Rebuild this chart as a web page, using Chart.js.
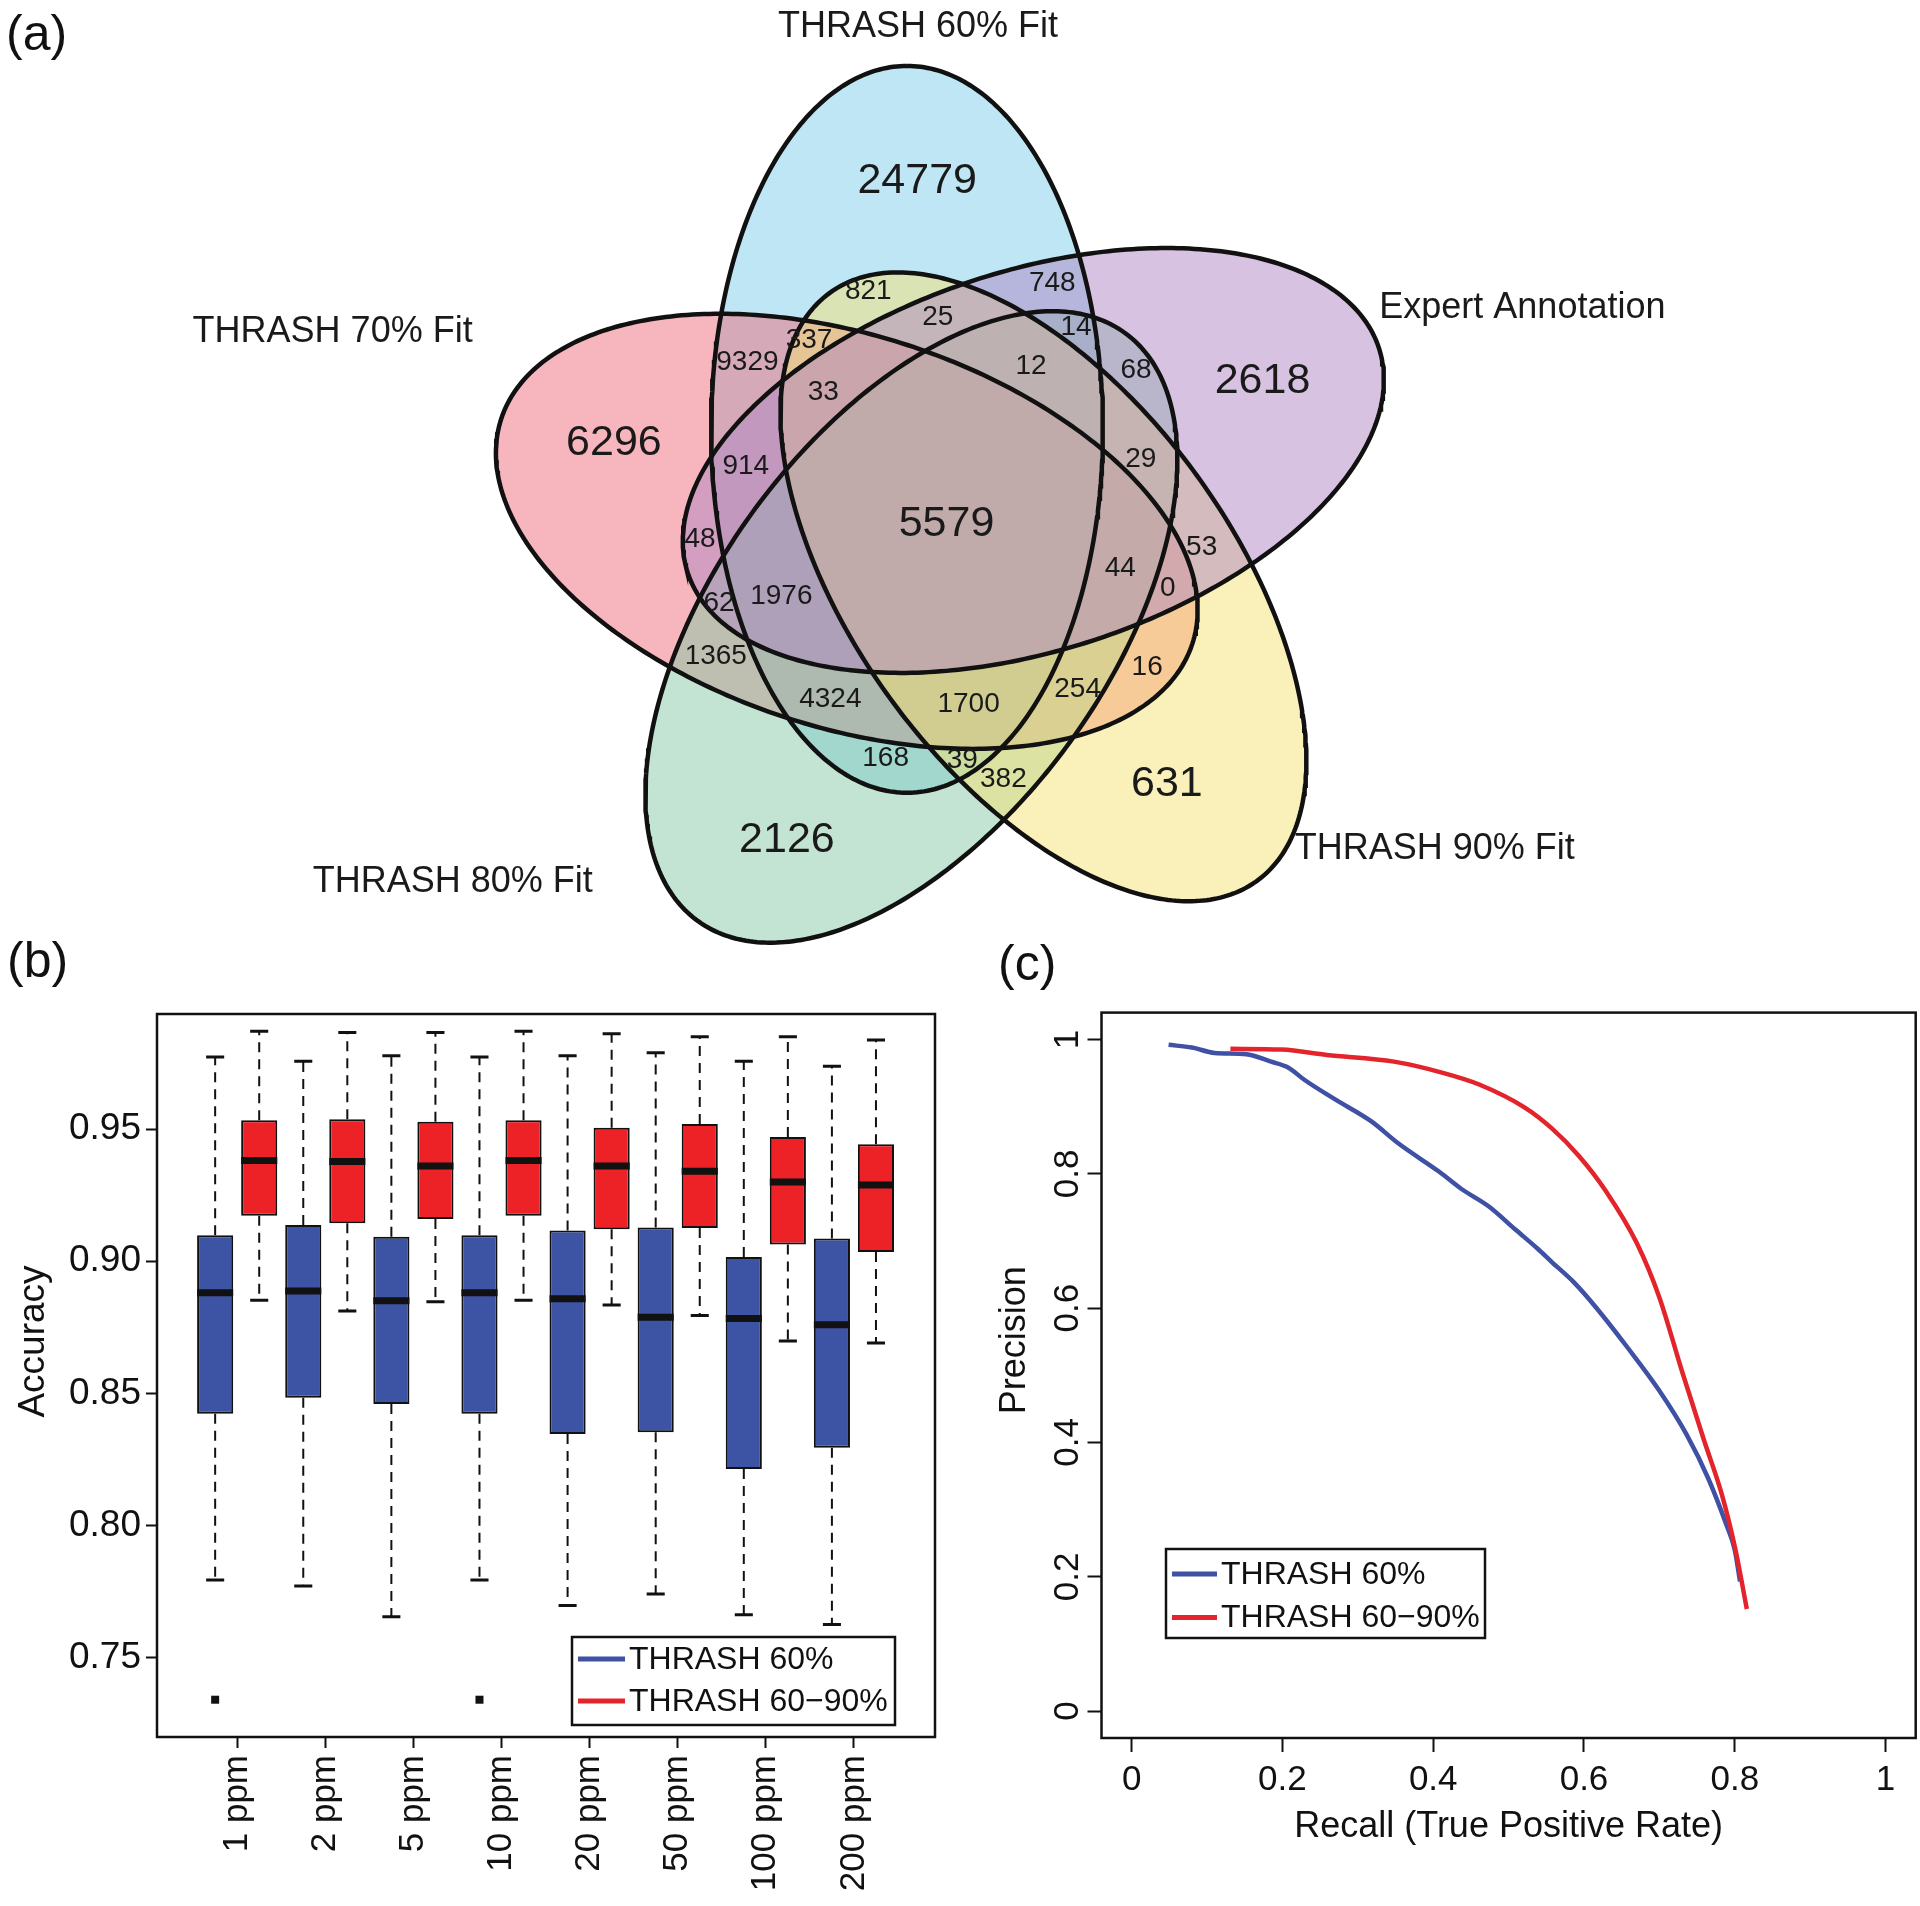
<!DOCTYPE html>
<html>
<head>
<meta charset="utf-8">
<script src="https://cdn.jsdelivr.net/npm/chart.js@4.4.1/dist/chart.umd.min.js"></script>
<style>
html,body{margin:0;padding:0;background:#fff;}
#page{position:relative;width:1920px;height:1906px;overflow:hidden;background:#fff;font-family:"Liberation Sans",Arial,sans-serif;}
canvas{position:absolute;}
.plabel{position:absolute;font-size:50px;line-height:1;color:#111;font-family:"Liberation Sans",Arial,sans-serif;}
</style>
</head>
<body>
<div id="page">
<canvas id="venn" width="1920" height="975" style="left:0;top:0;width:1920px;height:975px"></canvas>
<canvas id="box" width="960" height="966" style="left:0;top:940px;width:960px;height:966px"></canvas>
<canvas id="pr" width="960" height="966" style="left:960px;top:940px;width:960px;height:966px"></canvas>
<div class="plabel" style="left:6px;top:8px">(a)</div>
<div class="plabel" style="left:7px;top:935px">(b)</div>
<div class="plabel" style="left:998px;top:938px">(c)</div>
</div>
<script>
// ---------------- DATA ----------------
// (a) Venn diagram
const vennSetNames = ['THRASH 60% Fit', 'Expert Annotation', 'THRASH 90% Fit', 'THRASH 80% Fit', 'THRASH 70% Fit'];
const regionCounts = [24779, 6296, 2618, 631, 2126, 5579, 821, 748, 25, 14, 337, 9329, 33, 12, 68, 914, 29, 48, 53, 44, 0, 62, 1976, 1365, 16, 254, 4324, 1700, 168, 39, 382];

// (b) box plot
const ppmLabels = ['1 ppm', '2 ppm', '5 ppm', '10 ppm', '20 ppm', '50 ppm', '100 ppm', '200 ppm'];
const accTicks = [0.75, 0.80, 0.85, 0.90, 0.95];
const t60Low  = [0.7795, 0.7772, 0.7656, 0.7795, 0.7698, 0.7742, 0.7663, 0.7626];
const t60Q1   = [0.8423, 0.8484, 0.8460, 0.8423, 0.8347, 0.8353, 0.8214, 0.8295];
const t60Med  = [0.8881, 0.8888, 0.8851, 0.8881, 0.8858, 0.8788, 0.8784, 0.8760];
const t60Q3   = [0.9098, 0.9137, 0.9093, 0.9098, 0.9116, 0.9128, 0.9016, 0.9086];
const t60High = [0.9772, 0.9756, 0.9777, 0.9772, 0.9777, 0.9788, 0.9756, 0.9737];
const t60Out  = [[0.7342], [], [], [0.7342], [], [], [], []];
const t6090Low  = [0.8853, 0.8812, 0.8847, 0.8853, 0.8835, 0.8795, 0.8698, 0.8691];
const t6090Q1   = [0.9172, 0.9144, 0.9160, 0.9172, 0.9121, 0.9126, 0.9063, 0.9035];
const t6090Med  = [0.9381, 0.9377, 0.9360, 0.9381, 0.9360, 0.9340, 0.9300, 0.9288];
const t6090Q3   = [0.9533, 0.9537, 0.9528, 0.9533, 0.9505, 0.9519, 0.9470, 0.9442];
const t6090High = [0.9870, 0.9865, 0.9865, 0.9870, 0.9860, 0.9849, 0.9849, 0.9837];
const t6090Out  = [[], [], [], [], [], [], [], []];

// (c) precision-recall
const prTicks = [0, 0.2, 0.4, 0.6, 0.8, 1];
const recall60 = [0.049, 0.080, 0.110, 0.152, 0.185, 0.208, 0.229, 0.271, 0.318, 0.354, 0.408, 0.438, 0.473, 0.509, 0.539, 0.557, 0.587, 0.616, 0.658, 0.700, 0.736, 0.765, 0.789, 0.800, 0.807];
const precision60 = [0.992, 0.988, 0.980, 0.978, 0.967, 0.958, 0.940, 0.910, 0.878, 0.845, 0.803, 0.777, 0.752, 0.717, 0.688, 0.669, 0.638, 0.601, 0.541, 0.477, 0.412, 0.346, 0.277, 0.240, 0.193];
const recall6090 = [0.131, 0.199, 0.259, 0.348, 0.414, 0.461, 0.521, 0.557, 0.593, 0.628, 0.670, 0.700, 0.730, 0.759, 0.783, 0.801, 0.816];
const precision6090 = [0.986, 0.985, 0.977, 0.967, 0.950, 0.933, 0.899, 0.868, 0.827, 0.776, 0.697, 0.616, 0.506, 0.404, 0.322, 0.240, 0.152];

// ---------------- LAYOUT / GEOMETRY (diagram units) ----------------
const regionLabelPos = [
  [0.456, 0.941], [0.072, 0.609], [0.893, 0.688], [0.772, 0.178], [0.291, 0.107], [0.493, 0.507],
  [0.394, 0.802], [0.627, 0.812], [0.482, 0.768], [0.657, 0.756], [0.319, 0.740], [0.241, 0.712],
  [0.337, 0.674], [0.600, 0.707], [0.733, 0.702], [0.239, 0.580], [0.739, 0.589], [0.181, 0.487],
  [0.816, 0.478], [0.713, 0.451], [0.773, 0.426], [0.205, 0.406], [0.284, 0.416], [0.201, 0.340],
  [0.747, 0.326], [0.659, 0.298], [0.346, 0.285], [0.521, 0.279], [0.416, 0.211], [0.513, 0.208], [0.565, 0.184]
];
const setLabelPos = [[0.457, 1.136], [1.222, 0.780], [1.111, 0.096], [-0.132, 0.054], [-0.284, 0.750]];
const vennCenter = [0.5, 0.5];
const vennDist = 0.139;
const vennOffsetAngle = 114.2;
const vennSemiMajor = 0.46;
const vennSemiMinor = [0.248, 0.24, 0.24, 0.248, 0.248];
const vennNudge = [[0, 0], [0, -0.006], [-0.0049, -0.0035], [-0.023, 0.0127], [0.005, 0.0127]];
const vennFill = ['rgba(125,205,235,0.5)', 'rgba(175,135,195,0.5)', 'rgba(245,225,115,0.5)', 'rgba(135,201,165,0.5)', 'rgba(239,109,125,0.5)'];
const vennFillOrder = [5, 1, 2, 3, 4];

const FONT = '"Liberation Sans", Arial, sans-serif';
Chart.defaults.font.family = FONT;
Chart.defaults.color = '#111';

function ellipsePoints(k) {
  const N = 360;
  const a = (vennOffsetAngle - 72 * k) * Math.PI / 180;
  const cx = vennCenter[0] + vennDist * Math.cos(a) + vennNudge[k][0];
  const cy = vennCenter[1] + vennDist * Math.sin(a) + vennNudge[k][1];
  const rot = (90 - 72 * k) * Math.PI / 180;
  const pts = [];
  for (let i = 0; i <= N; i++) {
    const t = 2 * Math.PI * i / N;
    const u = vennSemiMajor * Math.cos(t), v = vennSemiMinor[k] * Math.sin(t);
    pts.push({x: cx + u * Math.cos(rot) - v * Math.sin(rot), y: cy + u * Math.sin(rot) + v * Math.cos(rot)});
  }
  return pts;
}

// ---------------- (a) VENN ----------------
const vennDatasets = [];
for (let k = 0; k < 5; k++) {
  vennDatasets.push({label: vennSetNames[k] + ' area', data: ellipsePoints(k), showLine: true, fill: 'shape',
    backgroundColor: vennFill[k], borderWidth: 0, pointRadius: 0, tension: 0, order: vennFillOrder[k]});
}
for (let k = 0; k < 5; k++) {
  vennDatasets.push({label: vennSetNames[k], data: ellipsePoints(k), showLine: true, fill: false,
    borderColor: '#111', borderWidth: 4.5, pointRadius: 0, tension: 0, order: 0});
}
const vennTextPlugin = {
  id: 'vennText',
  afterDatasetsDraw(chart) {
    const {ctx, scales: {x, y}} = chart;
    ctx.save();
    ctx.fillStyle = '#1a1a1a';
    ctx.textAlign = 'center';
    ctx.textBaseline = 'middle';
    regionCounts.forEach((v, i) => {
      ctx.font = (i < 6 ? '43px ' : '28px ') + FONT;
      ctx.fillText(String(v), x.getPixelForValue(regionLabelPos[i][0]), y.getPixelForValue(regionLabelPos[i][1]));
    });
    ctx.font = '36px ' + FONT;
    vennSetNames.forEach((n, i) => {
      ctx.fillText(n, x.getPixelForValue(setLabelPos[i][0]), y.getPixelForValue(setLabelPos[i][1]));
    });
    ctx.restore();
  }
};
new Chart(document.getElementById('venn'), {
  type: 'scatter',
  data: {datasets: vennDatasets},
  options: {
    responsive: false, animation: false, events: [], devicePixelRatio: 1,
    layout: {padding: 0},
    scales: {
      x: {type: 'linear', display: false, min: -0.70506, max: 1.72532},
      y: {type: 'linear', display: false, min: -0.06393, max: 1.17025}
    },
    plugins: {legend: {display: false}, tooltip: {enabled: false}, filler: {drawTime: 'beforeDatasetsDraw'}}
  },
  plugins: [vennTextPlugin]
});

// ---------------- helpers for (b) and (c) ----------------
const framePlugin = {
  id: 'frame',
  afterDraw(chart) {
    const {ctx, chartArea: a} = chart;
    ctx.save();
    ctx.strokeStyle = '#111';
    ctx.lineWidth = 2.5;
    ctx.strokeRect(a.left, a.top, a.right - a.left, a.bottom - a.top);
    ctx.restore();
  }
};
function titlesPlugin(yText, yDx, yDy, xText, xDy, size) {
  return {
    id: 'titles',
    afterDraw(chart) {
      const {ctx, chartArea: a} = chart;
      ctx.save();
      ctx.font = size + 'px ' + FONT;
      ctx.fillStyle = '#111';
      ctx.textAlign = 'center';
      ctx.textBaseline = 'middle';
      ctx.save();
      ctx.translate(a.left - yDx, (a.top + a.bottom) / 2 - yDy);
      ctx.rotate(-Math.PI / 2);
      ctx.fillText(yText, 0, 0);
      ctx.restore();
      if (xText) ctx.fillText(xText, (a.left + a.right) / 2, a.bottom + xDy);
      ctx.restore();
    }
  };
}
function legendPlugin(box, rowDy, lineLen) {
  return {
    id: 'boxLegend',
    afterDraw(chart) {
      const {ctx} = chart;
      ctx.save();
      ctx.fillStyle = '#fff';
      ctx.fillRect(box[0], box[1], box[2], box[3]);
      ctx.strokeStyle = '#111';
      ctx.lineWidth = 2.5;
      ctx.strokeRect(box[0], box[1], box[2], box[3]);
      ctx.font = '32px ' + FONT;
      ctx.textBaseline = 'middle';
      ctx.textAlign = 'left';
      chart.data.datasets.forEach((ds, i) => {
        const yy = box[1] + rowDy[i];
        ctx.strokeStyle = ds.legendColor;
        ctx.lineWidth = 5;
        ctx.beginPath();
        ctx.moveTo(box[0] + 6, yy);
        ctx.lineTo(box[0] + 6 + lineLen, yy);
        ctx.stroke();
        ctx.fillStyle = '#111';
        ctx.fillText(ds.label, box[0] + 10 + lineLen, yy + 1);
      });
      ctx.restore();
    }
  };
}

// ---------------- (b) BOX PLOT ----------------
const boxStats = [
  {low: t60Low, q1: t60Q1, med: t60Med, q3: t60Q3, high: t60High, out: t60Out},
  {low: t6090Low, q1: t6090Q1, med: t6090Med, q3: t6090Q3, high: t6090High, out: t6090Out}
];
const ppmPos = ppmLabels.map((_, i) => i + 1);
const boxWhiskerPlugin = {
  id: 'boxWhisker',
  afterDatasetsDraw(chart) {
    const {ctx, scales: {y}} = chart;
    boxStats.forEach((st, di) => {
      const meta = chart.getDatasetMeta(di);
      meta.data.forEach((bar, j) => {
        const x = bar.x, w = bar.width;
        const yq1 = y.getPixelForValue(st.q1[j]), yq3 = y.getPixelForValue(st.q3[j]);
        const ylo = y.getPixelForValue(st.low[j]), yhi = y.getPixelForValue(st.high[j]);
        const ym = y.getPixelForValue(st.med[j]);
        ctx.save();
        ctx.strokeStyle = '#111';
        ctx.lineWidth = 2;
        ctx.setLineDash([10, 7]);
        ctx.beginPath();
        ctx.moveTo(x, yq3); ctx.lineTo(x, yhi);
        ctx.moveTo(x, yq1); ctx.lineTo(x, ylo);
        ctx.stroke();
        ctx.setLineDash([]);
        ctx.lineWidth = 3;
        ctx.beginPath();
        ctx.moveTo(x - w * 0.25, yhi); ctx.lineTo(x + w * 0.25, yhi);
        ctx.moveTo(x - w * 0.25, ylo); ctx.lineTo(x + w * 0.25, ylo);
        ctx.stroke();
        ctx.lineWidth = 7;
        ctx.beginPath();
        ctx.moveTo(x - w / 2, ym); ctx.lineTo(x + w / 2, ym);
        ctx.stroke();
        ctx.fillStyle = '#111';
        (st.out[j] || []).forEach(v => {
          const yo = y.getPixelForValue(v);
          ctx.fillRect(x - 4, yo - 4, 8, 8);
        });
        ctx.restore();
      });
    });
  }
};
new Chart(document.getElementById('box'), {
  type: 'bar',
  data: {
    datasets: [
      {label: 'THRASH 60%', data: ppmPos.map((p, i) => ({x: p, y: [t60Q1[i], t60Q3[i]]})),
        backgroundColor: '#3D53A3', borderColor: '#111', borderWidth: 2, borderSkipped: false,
        barPercentage: 0.82, categoryPercentage: 1.0, legendColor: '#3F51A5'},
      {label: 'THRASH 60\u221290%', data: ppmPos.map((p, i) => ({x: p, y: [t6090Q1[i], t6090Q3[i]]})),
        backgroundColor: '#EC2227', borderColor: '#111', borderWidth: 2, borderSkipped: false,
        barPercentage: 0.82, categoryPercentage: 1.0, legendColor: '#E3242B'}
    ]
  },
  options: {
    responsive: false, animation: false, events: [], devicePixelRatio: 1,
    layout: {padding: {top: 74, right: 25, left: 0, bottom: 0}},
    scales: {
      x: {
        type: 'linear', min: 0.09, max: 8.92, offset: false,
        afterBuildTicks: s => { s.ticks = ppmPos.map(v => ({value: v})); },
        afterFit: s => { s.height = 169; },
        ticks: {callback: (v, i) => ppmLabels[i], minRotation: 90, maxRotation: 90, autoSkip: false,
          font: {size: 35}, color: '#111', padding: 7},
        grid: {drawOnChartArea: false, drawTicks: true, tickLength: 11, tickColor: '#111', tickWidth: 2, offset: false},
        border: {display: false}
      },
      y: {
        type: 'linear', min: 0.7201, max: 0.9935, stacked: false,
        afterBuildTicks: s => { s.ticks = accTicks.map(v => ({value: v})); },
        afterFit: s => { s.width = 157; },
        ticks: {callback: v => v.toFixed(2), font: {size: 37}, color: '#111', padding: 5},
        grid: {drawOnChartArea: false, drawTicks: true, tickLength: 11, tickColor: '#111', tickWidth: 2},
        border: {display: false}
      }
    },
    plugins: {legend: {display: false}, tooltip: {enabled: false}}
  },
  plugins: [boxWhiskerPlugin, framePlugin, titlesPlugin('Accuracy', 123, 34, null, 0, 37), legendPlugin([572, 697, 323, 88], [22, 64], 47)]
});

// ---------------- (c) PRECISION-RECALL ----------------
new Chart(document.getElementById('pr'), {
  type: 'scatter',
  data: {
    datasets: [
      {label: 'THRASH 60%', data: recall60.map((r, i) => ({x: r, y: precision60[i]})), showLine: true,
        borderColor: '#3F51A5', borderWidth: 4.5, pointRadius: 0, fill: false, cubicInterpolationMode: 'monotone', order: 1, legendColor: '#3F51A5'},
      {label: 'THRASH 60\u221290%', data: recall6090.map((r, i) => ({x: r, y: precision6090[i]})), showLine: true,
        borderColor: '#E3242B', borderWidth: 4.5, pointRadius: 0, fill: false, cubicInterpolationMode: 'monotone', order: 0, legendColor: '#E3242B'}
    ]
  },
  options: {
    responsive: false, animation: false, events: [], devicePixelRatio: 1,
    layout: {padding: {top: 72.6, right: 4.3, left: 0, bottom: 0}},
    scales: {
      x: {
        type: 'linear', min: -0.04, max: 1.04,
        afterBuildTicks: s => { s.ticks = prTicks.map(v => ({value: v})); },
        afterFit: s => { s.height = 168; },
        ticks: {callback: v => String(v), font: {size: 35}, color: '#111', padding: 7, maxRotation: 0},
        grid: {drawOnChartArea: false, drawTicks: true, tickLength: 14, tickColor: '#111', tickWidth: 2},
        border: {display: false}
      },
      y: {
        type: 'linear', min: -0.04, max: 1.04,
        afterBuildTicks: s => { s.ticks = prTicks.map(v => ({value: v})); },
        afterFit: s => { s.width = 141.5; },
        ticks: {callback: v => String(v), font: {size: 35}, color: '#111', padding: -5, minRotation: 90, maxRotation: 90, crossAlign: 'center'},
        grid: {drawOnChartArea: false, drawTicks: true, tickLength: 14, tickColor: '#111', tickWidth: 2},
        border: {display: false}
      }
    },
    plugins: {legend: {display: false}, tooltip: {enabled: false}}
  },
  plugins: [framePlugin, titlesPlugin('Precision', 86, 35, 'Recall (True Positive Rate)', 89, 36), legendPlugin([206, 609, 319, 89], [25, 68.5], 45)]
});
</script>
</body>
</html>
